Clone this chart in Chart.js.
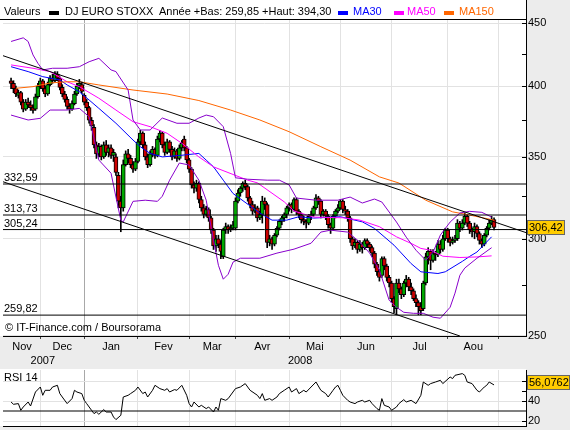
<!DOCTYPE html>
<html>
<head>
<meta charset="utf-8">
<script src="https://cdn.jsdelivr.net/npm/chart.js@4/dist/chart.umd.min.js"></script>
<style>
  body { margin: 0; width: 570px; height: 430px; overflow: hidden; position: relative; background: #ececec;
         font-family: "Liberation Sans", Arial, sans-serif; font-size: 11px; color: #000; }
  .abs { position: absolute; white-space: nowrap; line-height: 13px; }
  .sq { position: absolute; width: 10px; height: 4px; }
  canvas { position: absolute; left: 0; }
</style>
</head>
<body>
<div class="abs" style="left:0;top:0;width:526px;height:336px;background:#fff"></div>
<div class="abs" style="left:0;top:369px;width:526px;height:57px;background:#fff"></div>

<canvas id="main" width="570" height="370" style="top:0"></canvas>
<canvas id="rsiChart" width="570" height="70" style="top:360px"></canvas>

<!-- entete -->
<span class="abs" style="left:4px;top:5px">Valeurs</span>
<span class="sq" style="left:49px;top:11px;background:#000"></span>
<span class="abs" style="left:65px;top:5px">DJ EURO STOXX</span>
<span class="abs" style="left:159px;top:5px">Année +Bas: 259,85 +Haut: 394,30</span>
<span class="sq" style="left:338px;top:11px;background:#0000ff"></span>
<span class="abs" style="left:353px;top:5px;color:#0000ff">MA30</span>
<span class="sq" style="left:394px;top:11px;background:#ff00ff"></span>
<span class="abs" style="left:407px;top:5px;color:#ff00ff">MA50</span>
<span class="sq" style="left:444px;top:11px;background:#ff6600"></span>
<span class="abs" style="left:459px;top:5px;color:#ff6600">MA150</span>

<span class="abs" style="left:5px;top:321px">© IT-Finance.com / Boursorama</span>
<span class="abs" style="left:4px;top:371px">RSI 14</span>

<script>
// x = numero de seance (0 = premiere seance affichee, mi-nov 2007)
const xMin = -3.3, xMax = 211.1;

const opens = [
  404,402,398,393,395,388,383,388,386,384, 383,392,400,404,398,394,401,406,404,409,
  406,399,394,390,385,383,387,394,400,401, 393,388,384,375,370,358,352,357,350,358,
  353,356,351,350,338,322,318,345,352,349, 345,342,347,360,366,358,350,345,352,355,
  351,362,366,358,353,360,355,350,354,349, 356,362,356,348,342,332,330,333,323,318,
  314,317,312,305,296,300,297,290,305,307, 305,306,306,322,327,330,333,331,324,320,
  316,318,312,314,322,320,298,300,297,302, 306,310,312,314,318,320,317,323,316,314,
  311,310,309,313,314,318,324,322,314,316, 313,308,306,313,316,318,322,317,316,312,
  300,296,298,294,297,295,299,297,295,292, 286,282,280,289,285,279,276,268,263,276,
  273,270,276,278,274,272,268,266,264,263, 276,290,293,288,292,291,297,294,300,305,
  300,298,299,300,309,306,309,313,309,305, 304,307,303,299,297,302,306,309,311
];
const highs = [
  406,404,400,397,396,390,390,391,389,386, 394,402,406,405,400,403,408,409,411,411,
  407,401,396,392,387,389,396,402,405,403, 394.3,390,385,377,372,360,359,358,360,361,
  358,358,355,352,340,325,348,354,355,351, 347,349,362,368,367,360,352,354,357,356,
  364,368,367,360,362,361,357,356,355,358, 361,364,357,349,343,334,335,334,325,320,
  319,318,313,306,302,302,299,306,309,308, 308,310,324,329,331,334,335,332,325,322,
  320,319,316,325,324,321,302,301,303,307, 311,313,315,319,321,321,324,324,317,315,
  313,311,314,316,319,326,325,323,317,317, 314,309,314,317,320,323,323,319,317,313,
  301,300,299,299,298,300,300,298,296,293, 287,283,290,290,286,280,277,269,278,278,
  274,277,280,279,276,273,270,267,266,277, 292,295,294,294,293,299,299,302,306,306,
  301,301,302,311,310,311,315,314,310,306, 309,308,304,300,303,307,311,313,312
];
const lows = [
  398,395,392,391,386,381,382,384,382,380, 382,391,398,396,392,393,400,402,403,404,
  397,392,388,383,380,382,386,393,398,394, 386,382,373,368,356,349,350,348,349,351,
  350,349,347,338,318,304,316,344,346,343, 340,341,346,358,356,348,343,344,350,349,
  350,360,356,351,352,353,348,349,347,348, 354,354,346,340,330,327,328,321,316,312,
  313,310,303,294,293,295,289,289,303,303, 304,305,305,321,325,328,329,322,318,314,
  315,310,311,309,317,295,296,294,296,301, 305,308,310,312,316,315,316,314,312,309,
  308,306,308,311,313,317,320,312,313,311, 306,303,305,312,315,317,315,314,310,298,
  294,295,292,293,292,294,295,293,290,284, 280,277,279,283,277,274,266,261,260,271,
  268,269,274,272,270,267,264,260,260,262, 275,286,283,287,288,290,292,293,299,298,
  296,297,298,299,304,305,308,307,303,301, 300,301,297,295,296,301,305,308,305
];
const closes = [
  402,398,394,395,388,383,388,386,384,382, 392,400,404,398,394,401,406,404,409,406,
  399,394,390,385,383,387,394,400,402,396, 388,384,375,371,358,352,357,350,358,353,
  356,351,353,340,322,318,345,352,349,345, 342,347,360,366,358,350,345,352,355,351,
  362,366,358,353,360,355,350,354,349,356, 359,356,348,342,332,330,333,323,318,314,
  317,312,305,296,300,297,293,305,307,305, 306,308,322,327,330,333,331,324,320,316,
  318,312,314,322,320,298,300,297,302,306, 310,312,314,318,320,317,323,316,314,311,
  310,309,313,314,318,324,322,314,316,313, 308,306,313,316,318,322,317,316,312,300,
  296,298,294,297,295,299,297,295,292,286, 282,279,289,285,279,276,268,264,276,273,
  270,276,278,274,272,268,266,264,262,276, 290,293,288,292,291,297,294,300,305,300,
  298,299,300,309,306,309,313,309,305,304, 307,303,299,297,302,306,309,311,306.42
];

// moyennes mobiles et bandes [seance, valeur]
const ma30 = [[0,414.8],[7,411],[13,407.1],[20,404.6],[23,400.8],[28,395.7],[32,389.6],[36,383.5],[43,372.9],
  [50,361.3],[53,356.8],[57,352.3],[62,350],[70,351.1],[77,352.3],[80,347.9],[83,343.5],[87,335],[91,326.7],
  [102,314.9],[107,310.7],[113,310.7],[118,312.7],[124,311.9],[135,312.7],[144,309.7],[149,305.9],[157,296.4],
  [164,286.3],[168,281.9],[175,281],[178,281.9],[185,287.5],[188,290.2],[191,292.6],[197,301.1]];
const ma50 = [[0,416.2],[9,413.6],[16,411],[23,403.2],[28,399.5],[36,390.9],[43,382.3],[50,374],[57,370.5],
  [64,365.9],[70,359.1],[77,350],[83,343.5],[97,335],[101,333.3],[112,321.6],[116,316.1],[124,312.5],[136,312.1],
  [143,310.7],[151,306.9],[158,301.1],[164,297.4],[168,294.6],[172,293.6],[177,290.3],[184,289.6],[191,289.9],[197,290.5]];
const ma150 = [[2,398.3],[9,399.5],[16,402.3],[23,403.2],[28,403.2],[36,400.8],[50,397],[64,394],[77,389.2],
  [90,382.3],[102,375.2],[114,367],[127,356.8],[139,347.9],[151,337.1],[159,333.2],[170,322.6],[181,315.6],
  [188,313.7],[198,310.7]];
const bollUp = [[0,435],[5,438],[7,435],[9,424.1],[11,417.5],[13,412.3],[17,413.6],[23,413.6],[28,414.8],[32,418.7],
  [36,421.4],[41,412.3],[43,411],[48,397],[50,375.2],[53,368.2],[57,368.2],[62,376.6],[68,372.9],[73,372.9],
  [77,376.6],[80,378.7],[83,377.5],[87,370.5],[90,352.3],[92,336.5],[97,335.6],[105,335],[110,335],[114,332],
  [117,323.9],[125,322.6],[134,322.6],[139,324.5],[144,320.9],[149,323.3],[152,321.5],[158,309.6],[162,300.9],
  [166,293.6],[170,288.1],[173,292.5],[176,302.1],[180,309.6],[184,314.9],[188,315.9],[193,315.3],[197,312.5]];
const bollDown = [[0,378.7],[7,375.2],[12,376.4],[16,382.3],[23,382.3],[28,383.5],[32,377.5],[36,347.9],[41,339.4],
  [43,324.5],[45,310.7],[46,309.7],[50,321.9],[55,322.6],[60,321.9],[62,325],[65,335],[69,346],[73,344.7],
  [77,335],[80,322.6],[83,299.2],[85,285.4],[87,278],[89,280.6],[91,287.1],[94,289.2],[102,289.2],[109,292],
  [116,294.2],[123,297.5],[127,303.8],[131,304.9],[138,303.8],[143,298.1],[147,292],[151,282.8],[155,267.2],
  [158,263.7],[161,261.2],[165,260.7],[169,260.7],[173,258.8],[176,258.3],[180,263.7],[182,270.8],[184,280.1],
  [186,283.9],[191,289.2],[197,295]];

const rsi = [[0,39],[1,36.7],[3,37.4],[4,30.7],[5,34],[7,39],[8,35],[10,49],[12,54],[13,45.7],[14,50.7],[16,50.7],
  [17,54],[19,55.7],[20,47.4],[21,44],[23,37.4],[25,42.4],[26,50.7],[27,49],[29,47.4],[30,40.7],[31,37.4],[33,30.7],
  [34,27.4],[35,29],[36,26.7],[38,31.4],[39,29],[41,29],[42,24],[43,21.4],[45,25.7],[46,44],[48,45.7],[49,47.4],
  [51,50.7],[52,54],[54,47.4],[55,49],[56,44],[58,50.7],[59,55.7],[61,52.4],[63,50.7],[64,52.4],[65,49],[67,51.4],
  [68,50.7],[70,55.7],[72,45.7],[73,37.4],[74,34],[75,39],[77,34],[78,35.7],[80,32.4],[81,34],[83,29],[84,34],
  [85,30.7],[86,42.4],[88,40.7],[89,42.4],[92,52.4],[94,54],[96,57.4],[98,50.7],[101,45.7],[102,42.4],[103,47.4],
  [104,40.7],[106,42.4],[107,40.7],[109,44],[110,47.4],[112,50.7],[114,54],[115,49],[117,52.4],[118,47.4],
  [120,50.7],[121,49],[123,54],[125,59],[127,50.7],[129,47.4],[130,44],[132,50.7],[133,54],[134,55.7],[135,50.7],
  [136,45.7],[138,40.7],[139,39],[141,37.4],[142,39],[144,40.7],[145,39],[147,40.7],[148,37.4],[150,32.4],
  [151,30.7],[152,42.4],[153,35.7],[155,34],[156,30.7],[158,34],[159,37.4],[161,41.4],[162,39],[164,40.7],
  [166,37.4],[168,45.7],[169,59],[171,55.7],[172,57.4],[174,59],[176,60.7],[177,57.4],[180,64],[181,62.4],
  [182,65.7],[185,67.4],[186,65.7],[187,59],[189,57.4],[191,50.7],[192,49],[194,54],[195,55.7],[196,59],[198,56.0762]];

// supports / resistances et canal
const levels = [332.59, 313.73, 305.24, 259.82];
const trendUp = [[xMin, 423.5], [xMax, 303.5]];
const trendDown = [[xMin, 334], [184, 249.8]];

const monthStarts = [12, 30, 52, 73, 92, 114, 135, 156, 179, 200];
const monthMids = [4.5, 21, 41, 62.5, 82.5, 103, 124.5, 145.5, 167.5, 189.5];
const monthNames = ['Nov', 'Dec', 'Jan', 'Fev', 'Mar', 'Avr', 'Mai', 'Jun', 'Jul', 'Aou'];
const yearPos = [13, 118.5];
const yearNames = ['2007', '2008'];
const newYear = 30;
const priceTicks = [250, 275, 300, 325, 350, 375, 400, 425, 450];
const rsiTicks = [20, 30, 40, 50, 60];
const rsiGrid = [20, 40, 60];
const rsiFloor = 30;

Chart.defaults.font.family = '"Liberation Sans", Arial, sans-serif';
Chart.defaults.font.size = 11;
Chart.defaults.color = '#000';

const pts = a => a.map(p => ({x: p[0], y: p[1]}));
function line(data, color, width) {
  return { type: 'line', data: pts(data), borderColor: color, borderWidth: width || 1,
           pointRadius: 0, fill: false, tension: 0, order: 1 };
}
const fr = v => v.toFixed(2).replace('.', ',');

const wickData = closes.map((c, i) => ({x: i, y: [lows[i], highs[i]]}));
const bodyData = closes.map((c, i) => ({x: i, y: [opens[i], c]}));
const bodyColors = closes.map((c, i) => c >= opens[i] ? '#00a800' : '#cc0000');

const vGrid = c => c.tick && c.tick.value === newYear ? '#a8a8a8' : '#e2e2e2';
// pas de marge auto pour les etiquettes de l'axe
const fixY = s => { s.width = 44; s.paddingTop = 0; s.paddingBottom = 0; };

const decorMain = {
  id: 'decorMain',
  afterDraw(chart) {
    const ctx = chart.ctx, a = chart.chartArea, x = chart.scales.x, y = chart.scales.y;
    ctx.save();
    ctx.strokeStyle = '#000';
    ctx.lineWidth = 1;
    ctx.beginPath();
    ctx.moveTo(0, a.top + 0.5); ctx.lineTo(a.right, a.top + 0.5);
    ctx.moveTo(a.right + 0.5, 0); ctx.lineTo(a.right + 0.5, a.top);
    priceTicks.forEach(v => {
      const py = Math.round(y.getPixelForValue(v)) + 0.5;
      ctx.moveTo(a.right - 4, py); ctx.lineTo(a.right, py);
    });
    ctx.stroke();

    ctx.font = '11px "Liberation Sans"';
    ctx.fillStyle = '#000';
    ctx.textAlign = 'left';
    ctx.textBaseline = 'alphabetic';
    levels.forEach(v => ctx.fillText(fr(v), 4, y.getPixelForValue(v) - 3));

    ctx.textAlign = 'center';
    ctx.textBaseline = 'middle';
    monthMids.forEach((m, k) => ctx.fillText(monthNames[k], x.getPixelForValue(m), a.bottom + 11));
    yearPos.forEach((m, k) => ctx.fillText(yearNames[k], x.getPixelForValue(m), a.bottom + 25));

    // dernier cours
    const last = closes[closes.length - 1];
    const py = Math.round(y.getPixelForValue(last)) - 1;
    ctx.fillStyle = '#ffcc00';
    ctx.fillRect(a.right + 1, py - 7, 38, 15);
    ctx.strokeStyle = '#666';
    ctx.strokeRect(a.right + 1.5, py - 6.5, 37, 14);
    ctx.fillStyle = '#000';
    ctx.textAlign = 'left';
    ctx.fillText(fr(last), a.right + 3, py + 1);
    ctx.restore();
  }
};

new Chart(document.getElementById('main'), {
  type: 'bar',
  data: {
    datasets: [
      line(trendUp, '#000'),
      line(trendDown, '#000'),
      ...levels.map(v => line([[xMin, v], [xMax, v]], '#000')),
      line(bollUp, '#8800cc'),
      line(bollDown, '#8800cc'),
      line(ma150, '#ff6600'),
      line(ma50, '#ff00ff'),
      line(ma30, '#0000ff'),
      { data: bodyData, backgroundColor: bodyColors, borderColor: '#000', borderWidth: 1,
        borderSkipped: false, barThickness: 4, grouped: false, order: 2 },
      { data: wickData, backgroundColor: '#000', borderWidth: 0, barThickness: 1, grouped: false, order: 3 }
    ]
  },
  options: {
    responsive: false,
    animation: false,
    devicePixelRatio: 1,
    layout: { padding: { left: 3, top: 19, right: 0, bottom: 31 } },
    plugins: { legend: { display: false }, tooltip: { enabled: false } },
    scales: {
      x: {
        type: 'linear', min: xMin, max: xMax, offset: false,
        afterBuildTicks: s => { s.ticks = monthStarts.map(v => ({value: v})); },
        afterFit: s => { s.height = 3; },
        ticks: { display: false, autoSkip: false },
        grid: { offset: false, color: vGrid, tickLength: 3, tickColor: '#444' },
        border: { color: '#000' }
      },
      y: {
        type: 'logarithmic', position: 'right', min: 249.8, max: 453.8,
        afterBuildTicks: s => { s.ticks = priceTicks.map(v => ({value: v})); },
        afterFit: fixY,
        ticks: { autoSkip: false, padding: 2, callback: v => v % 50 === 0 ? String(v) : '' },
        grid: { drawTicks: false, color: c => c.tick && c.tick.value % 50 === 0 ? '#e2e2e2' : 'rgba(0,0,0,0)' },
        border: { color: '#000' }
      }
    }
  },
  plugins: [decorMain]
});

const decorRsi = {
  id: 'decorRsi',
  afterDraw(chart) {
    const ctx = chart.ctx, a = chart.chartArea, y = chart.scales.y;
    ctx.save();
    ctx.strokeStyle = '#000';
    ctx.lineWidth = 1;
    ctx.beginPath();
    rsiTicks.filter(v => v !== rsiFloor).forEach(v => {
      const py = Math.round(y.getPixelForValue(v)) + 0.5;
      ctx.moveTo(a.right - 4, py); ctx.lineTo(a.right, py);
    });
    ctx.stroke();
    const last = rsi[rsi.length - 1][1];
    const py = Math.round(y.getPixelForValue(last)) - 3;
    ctx.fillStyle = '#ffcc00';
    ctx.fillRect(a.right + 1, py - 7, 43, 15);
    ctx.strokeStyle = '#666';
    ctx.strokeRect(a.right + 1.5, py - 6.5, 42, 14);
    ctx.fillStyle = '#000';
    ctx.font = '11px "Liberation Sans"';
    ctx.textBaseline = 'middle';
    ctx.fillText(last.toFixed(4).replace('.', ','), a.right + 3, py + 1);
    ctx.restore();
  }
};

new Chart(document.getElementById('rsiChart'), {
  type: 'line',
  data: {
    datasets: [
      { data: pts(rsi), borderColor: '#000', borderWidth: 1, pointRadius: 0, tension: 0, fill: false },
      { data: pts([[xMin, rsiFloor], [xMax, rsiFloor]]), borderColor: '#000', borderWidth: 1.2, pointRadius: 0, fill: false }
    ]
  },
  options: {
    responsive: false,
    animation: false,
    devicePixelRatio: 1,
    layout: { padding: { left: 3, top: 10, right: 0, bottom: 4 } },
    plugins: { legend: { display: false }, tooltip: { enabled: false } },
    scales: {
      x: {
        type: 'linear', min: xMin, max: xMax,
        afterBuildTicks: s => { s.ticks = monthStarts.map(v => ({value: v})); },
        afterFit: s => { s.height = 0; s.paddingLeft = 0; s.paddingRight = 0; },
        ticks: { display: false, autoSkip: false },
        grid: { color: vGrid, drawTicks: false },
        border: { color: '#000' }
      },
      y: {
        position: 'right', min: 15, max: 71,
        afterBuildTicks: s => { s.ticks = rsiTicks.map(v => ({value: v})); },
        afterFit: fixY,
        ticks: { autoSkip: false, padding: 2, callback: v => rsiGrid.includes(v) ? String(v) : '' },
        grid: { drawTicks: false, color: c => c.tick && rsiGrid.includes(c.tick.value) ? '#e2e2e2' : 'rgba(0,0,0,0)' },
        border: { color: '#000' }
      }
    }
  },
  plugins: [decorRsi]
});
</script>
</body>
</html>
